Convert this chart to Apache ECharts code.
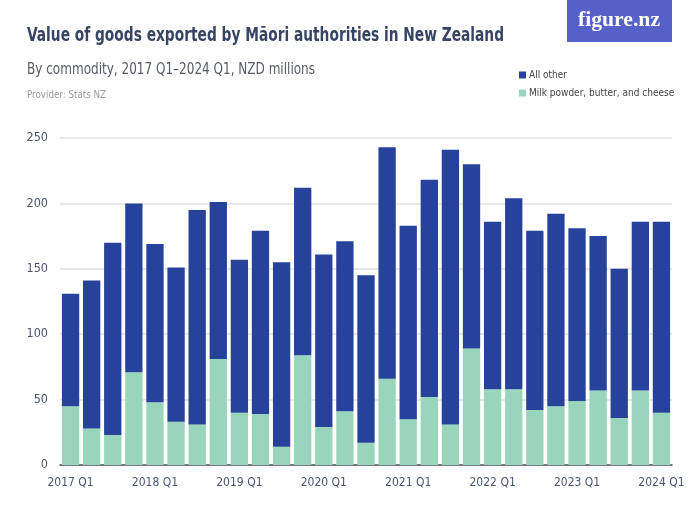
<!DOCTYPE html>
<html><head><meta charset="utf-8">
<script src="https://cdn.jsdelivr.net/npm/echarts@6/dist/echarts.min.js"></script>
<style>html,body{margin:0;padding:0;background:#fff}#c{width:700px;height:525px}</style>
</head><body><div id="c"></div>
<script>
var categories = ["2017 Q1","2017 Q2","2017 Q3","2017 Q4","2018 Q1","2018 Q2","2018 Q3","2018 Q4","2019 Q1","2019 Q2","2019 Q3","2019 Q4","2020 Q1","2020 Q2","2020 Q3","2020 Q4","2021 Q1","2021 Q2","2021 Q3","2021 Q4","2022 Q1","2022 Q2","2022 Q3","2022 Q4","2023 Q1","2023 Q2","2023 Q3","2023 Q4","2024 Q1"];
var milk = [45,28,23,71,48,33,31,81,40,39,14,84,29,41,17,66,35,52,31,89,58,58,42,45,49,57,36,57,40];
var allOther = [86,113,147,129,121,118,164,120,117,140,141,128,132,130,128,177,148,166,210,141,128,146,137,147,132,118,114,129,146];
var yTicks = [0,50,100,150,200,250];

var FONT = "'DejaVu Sans Condensed','Liberation Sans Narrow',sans-serif";
var mctx = document.createElement('canvas').getContext('2d');
function fitScale(text, font, target) {
  mctx.font = font;
  var w = mctx.measureText(text).width;
  return Math.min(1, target / w);
}
function scaledText(text, font, x, y, targetW, color, align) {
  return {type: 'text', x: x, y: y, scaleX: fitScale(text, font, targetW), scaleY: 1,
    style: {text: text, font: font, fill: color, textAlign: align || 'left', textVerticalAlign: 'middle'}};
}
var titleFont = "bold 20px 'DejaVu Sans Condensed', sans-serif";
var subFont = "16px 'DejaVu Sans Condensed', sans-serif";
var provFont = "11px 'DejaVu Sans Condensed', sans-serif";
var logoFont = "bold 22px 'Liberation Serif', 'DejaVu Serif', serif";

var chart = echarts.init(document.getElementById('c'));
chart.setOption({
  animation: false,
  textStyle: {fontFamily: FONT},
  graphic: [
    scaledText('Value of goods exported by Māori authorities in New Zealand', titleFont, 27, 36, 477, '#374565'),
    scaledText('By commodity, 2017 Q1–2024 Q1, NZD millions', subFont, 27, 70, 288, '#555b66'),
    scaledText('Provider: Stats NZ', provFont, 27, 95, 79, '#9a9a9a'),
    {type: 'rect', shape: {x: 567, y: 0, width: 105, height: 42}, style: {fill: '#5661c8'}},
    {type: 'text', x: 619, y: 20, scaleX: fitScale('figure.nz', logoFont, 82),
     style: {text: 'figure.nz', fill: '#fff', font: logoFont, textAlign: 'center', textVerticalAlign: 'middle'}}
  ],
  legend: {
    orient: 'vertical', left: 514, top: 64, itemWidth: 7, itemHeight: 7, itemGap: 6,
    icon: 'rect',
    data: ['All other', 'Milk powder, butter, and cheese'],
    textStyle: {fontFamily: FONT, fontSize: 10, lineHeight: 12, color: '#444', padding: [0,0,0,-2]}
  },
  grid: {left: 60, right: 28, top: 138, bottom: 60},
  xAxis: {
    type: 'category', data: categories, boundaryGap: true,
    axisLine: {lineStyle: {color: '#555', width: 1.5}},
    axisTick: {alignWithLabel: true, interval: 3, length: 7, lineStyle: {color: '#aaa', width: 2}},
    axisLabel: {interval: 3, color: '#4a5672', fontSize: 12, margin: 12, fontFamily: FONT}
  },
  yAxis: {
    type: 'value', min: 0, max: 250, interval: 50,
    axisLine: {show: false}, axisTick: {show: false},
    splitLine: {lineStyle: {color: '#e2e2e2', width: 1.5}},
    axisLabel: {color: '#4a5672', fontSize: 12.5, margin: 12, fontFamily: FONT,
      formatter: function(v){ return yTicks.indexOf(v) >= 0 ? String(v) : ''; }}
  },
  series: [
    {name: 'Milk powder, butter, and cheese', type: 'bar', stack: 's', data: milk, barCategoryGap: '18%',
     itemStyle: {color: '#98d5bb'}},
    {name: 'All other', type: 'bar', stack: 's', data: allOther, barCategoryGap: '18%',
     itemStyle: {color: '#26429b'}}
  ]
});
</script></body></html>
